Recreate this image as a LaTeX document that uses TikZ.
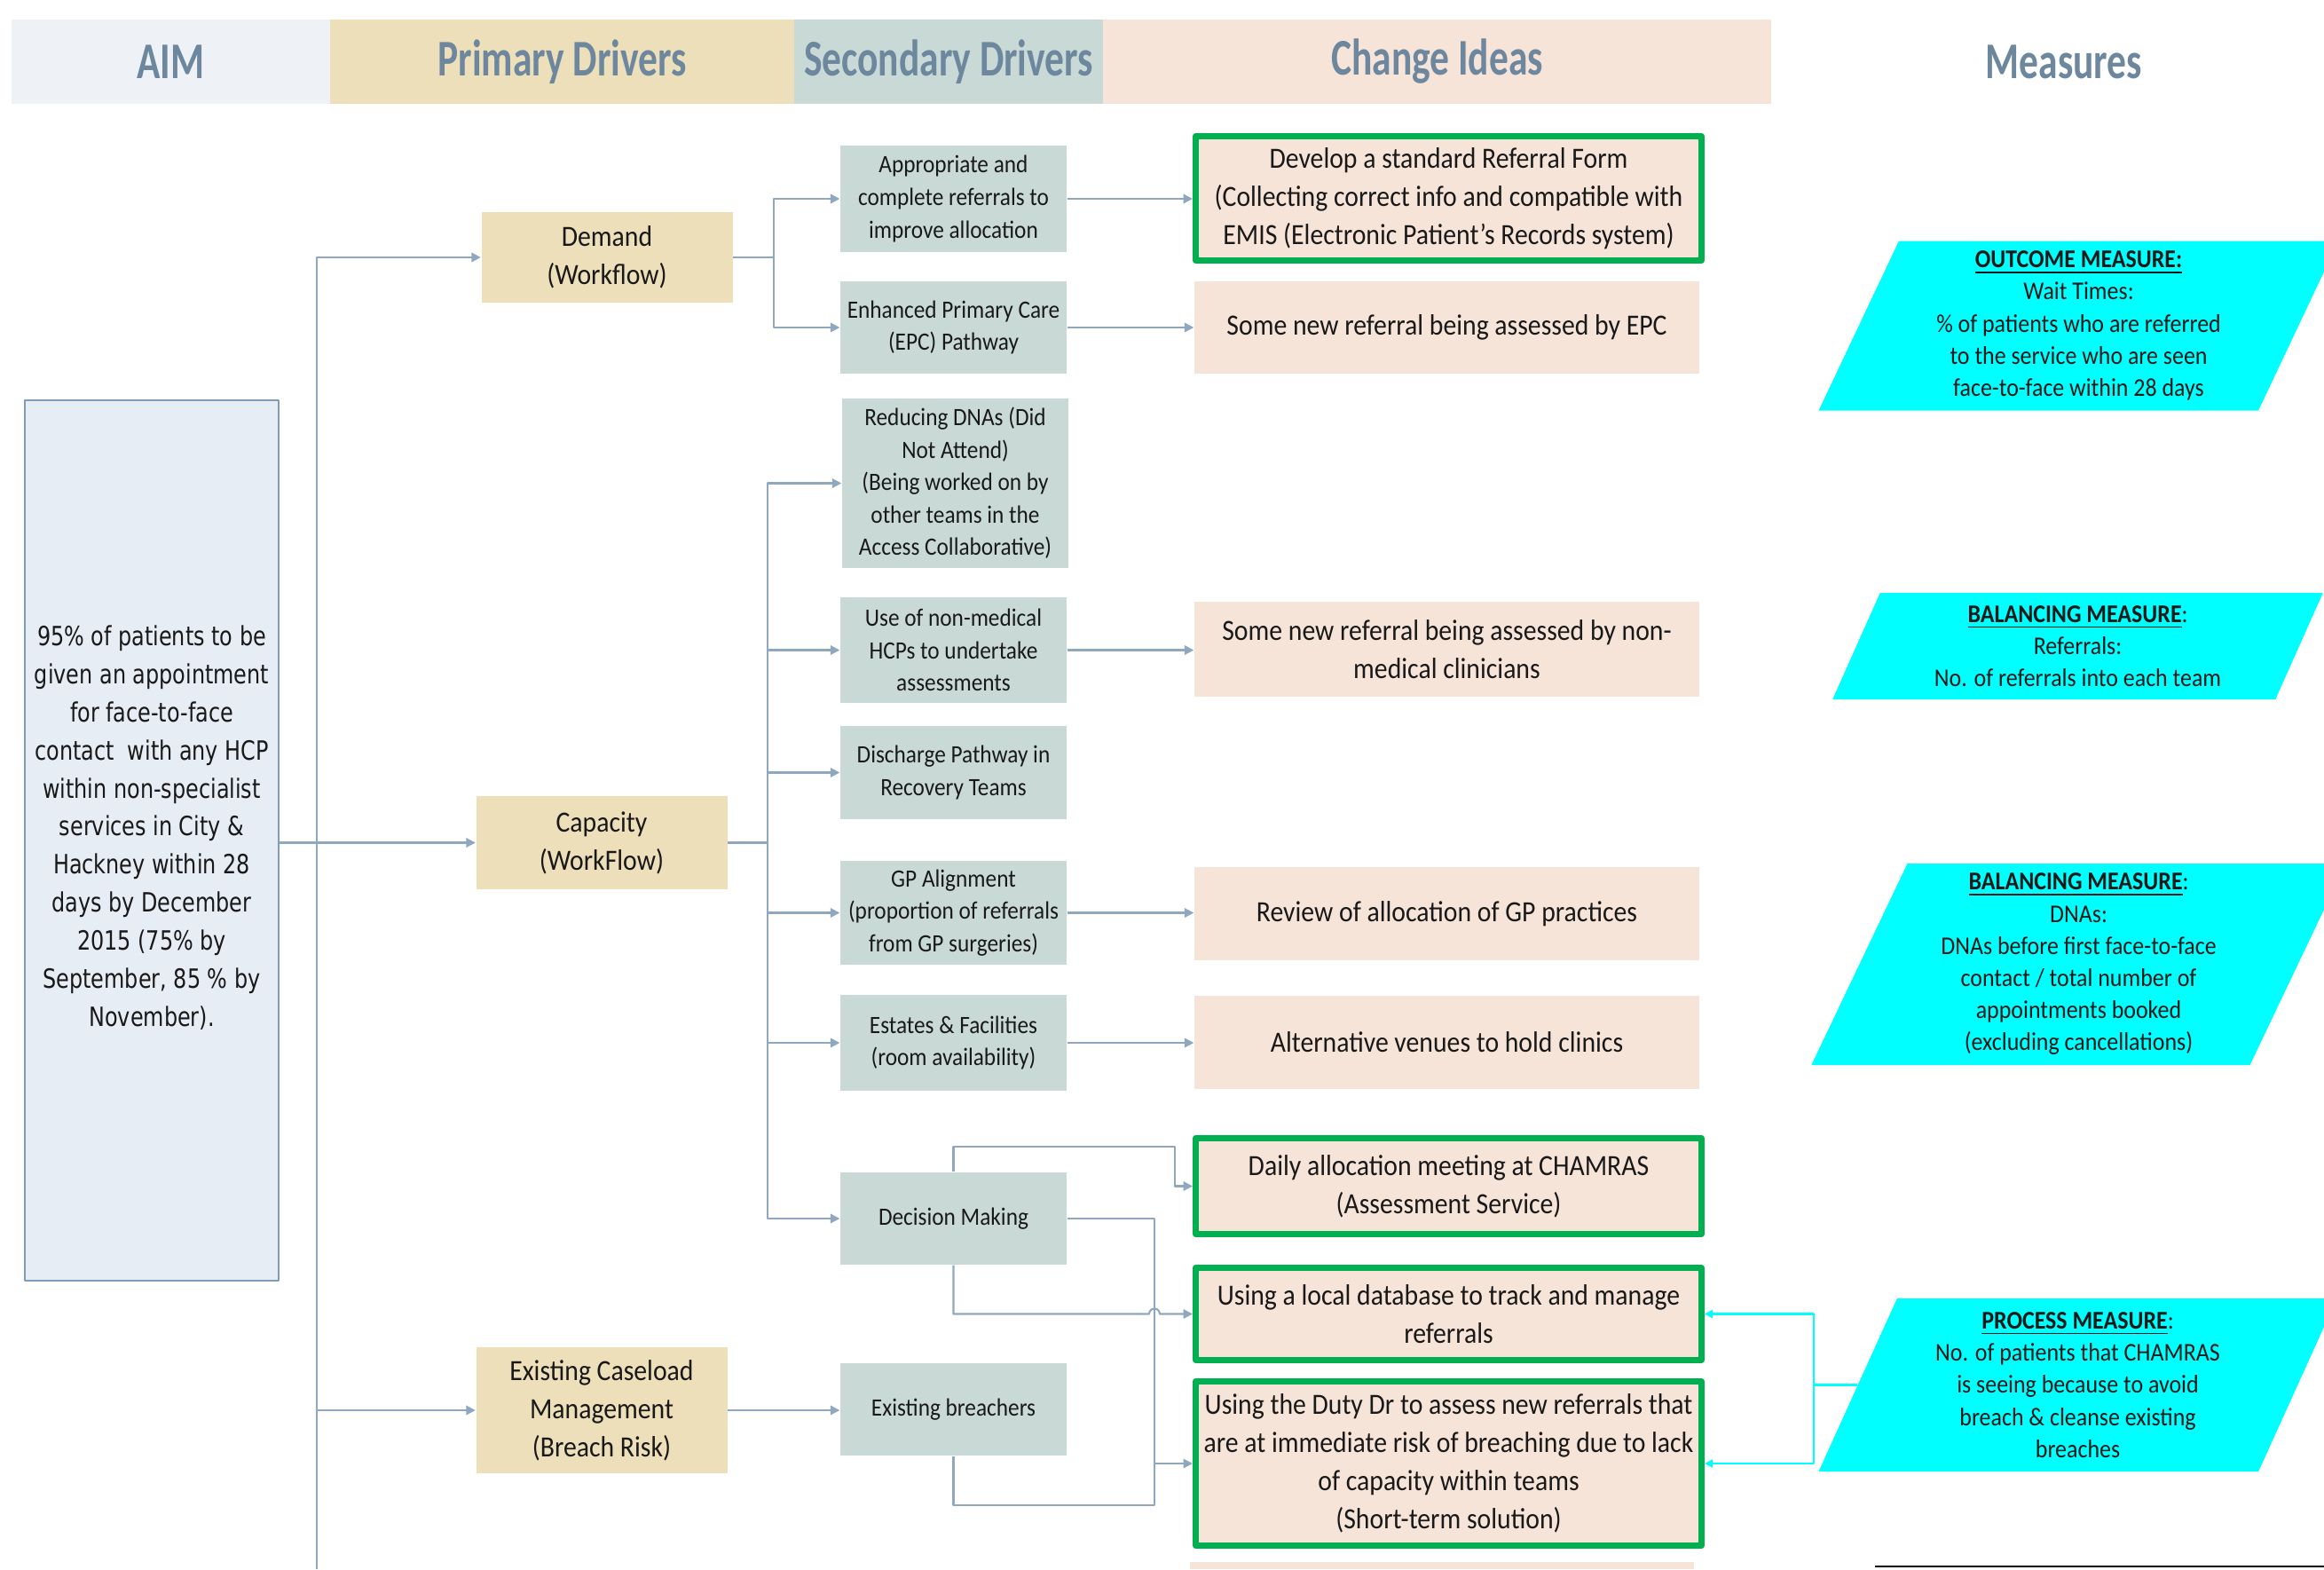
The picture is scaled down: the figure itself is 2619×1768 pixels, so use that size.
\documentclass[tikz,border=0pt]{standalone}
\usepackage{fontspec}
\setmainfont{Carlito}[FakeStretch=0.9]
\newfontfamily\headfont{Carlito}[FakeStretch=0.75]
\newfontfamily\aimfont{DejaVu Sans}[FakeStretch=0.8]
\usetikzlibrary{arrows.meta,shapes.geometric,calc}
\definecolor{headtxt}{RGB}{108,135,158}
\definecolor{aimhead}{RGB}{238,242,246}
\definecolor{aimfill}{RGB}{230,237,244}
\definecolor{aimline}{RGB}{127,157,185}
\definecolor{primfill}{RGB}{238,223,187}
\definecolor{secfill}{RGB}{201,218,214}
\definecolor{ideafill}{RGB}{246,228,217}
\definecolor{keygreen}{RGB}{0,176,80}
\definecolor{linkblue}{RGB}{143,167,191}
\definecolor{measfill}{RGB}{0,255,255}
\definecolor{txtdark}{RGB}{25,25,25}
\begin{document}
\begin{tikzpicture}[x=0.1mm,y=-0.1mm,>={Triangle[length=1.05mm,width=1.05mm]},line join=round,
	hbar/.style={minimum height=9.5mm,inner sep=0pt,font=\headfont\fontsize{16.5}{18}\selectfont\bfseries,text=headtxt},
	prim/.style={fill=primfill,inner sep=0pt,minimum width=28.3mm,align=center,text=txtdark,font=\fontsize{9.4}{12.2}\selectfont},
	sec/.style={fill=secfill,inner sep=0pt,minimum width=25.5mm,align=center,text=txtdark,font=\fontsize{8}{10.4}\selectfont},
	idea/.style={fill=ideafill,inner sep=0pt,minimum width=56.9mm,align=center,text=txtdark,font=\fontsize{9.4}{12.2}\selectfont},
	chosen/.style={idea,draw=keygreen,line width=2pt,minimum width=57mm},
	meas/.style={trapezium,trapezium left angle=67,trapezium right angle=113,trapezium stretches=true,fill=measfill,inner sep=0pt,align=center,text=txtdark,font=\fontsize{8.2}{10.3}\selectfont},
	link/.style={draw=linkblue,line width=0.6pt},
	mlink/.style={draw=measfill,line width=0.6pt,-{Triangle[length=0.9mm,width=0.9mm]}}]
	\useasboundingbox (0,0) rectangle (2619,1768);
	
	\node[hbar,fill=aimhead,minimum width=35.9mm] (hAim) at (192.5,69.5) {AIM};
	\node[hbar,fill=primfill,minimum width=52.3mm] (hPrim) at (633.5,69.5) {Primary Drivers};
	\node[hbar,fill=secfill,minimum width=34.8mm] (hSec) at (1069,69.5) {Secondary Drivers};
	\node[hbar,fill=ideafill,minimum width=75.3mm] (hIdea) at (1619.5,69.5) {Change Ideas};
	\node[hbar] (hMeas) at (2326,69.5) {Measures};
	
	\node[fill=aimfill,draw=aimline,line width=0.8pt,inner sep=0pt,minimum width=28.6mm,minimum height=99.2mm,align=center,text=txtdark,font=\aimfont\fontsize{8.5}{12.2}\selectfont] (aim) at (171,947)
	{95\% of patients to be\\given an appointment\\for face-to-face\\contact\ \ with any HCP\\within non-specialist\\services in City \&\\Hackney within 28\\days by December\\2015 (75\% by\\September, 85 \% by\\November).\\[-1mm]};
	
	\node[prim,minimum height=10.2mm] (demand) at (684,290) {Demand\\(Workflow)};
	\node[prim,minimum height=10.5mm] (capacity) at (678,949.5) {Capacity\\(WorkFlow)};
	\node[prim,minimum height=14.2mm] (caseload) at (678,1589) {Existing Caseload\\Management\\(Breach Risk)};
	
	\node[sec,minimum height=12mm] (appr) at (1074.5,224) {Appropriate and\\complete referrals to\\improve allocation};
	\node[sec,minimum height=10.4mm] (epc) at (1074.5,369) {Enhanced Primary Care\\(EPC) Pathway};
	\node[sec,minimum height=19.1mm] (dna) at (1076.5,544.5) {Reducing DNAs (Did\\Not Attend)\\(Being worked on by\\other teams in the\\Access Collaborative)};
	\node[sec,minimum height=11.9mm] (nonmed) at (1074.5,732.5) {Use of non-medical\\HCPs to undertake\\assessments};
	\node[sec,minimum height=10.5mm] (disch) at (1074.5,870.5) {Discharge Pathway in\\Recovery Teams};
	\node[sec,minimum height=11.7mm] (gp) at (1074.5,1028.5) {GP Alignment\\(proportion of referrals\\from GP surgeries)};
	\node[sec,minimum height=10.8mm] (estates) at (1074.5,1175) {Estates \& Facilities\\(room availability)};
	\node[sec,minimum height=10.4mm] (decision) at (1074.5,1373) {Decision Making};
	\node[sec,minimum height=10.4mm] (breach) at (1074.5,1588) {Existing breachers};
	
	\node[chosen,minimum height=14mm] (form) at (1632.5,223.5) {Develop a standard Referral Form\\(Collecting correct info and compatible with\\EMIS (Electronic Patient’s Records system)};
	\node[idea,minimum height=10.4mm] (epcIdea) at (1630.5,369) {Some new referral being assessed by EPC};
	\node[idea,minimum height=10.7mm] (nonmedIdea) at (1630.5,731.5) {Some new referral being assessed by non-\\medical clinicians};
	\node[idea,minimum height=10.5mm] (gpIdea) at (1630.5,1029.5) {Review of allocation of GP practices};
	\node[idea,minimum height=10.5mm] (venue) at (1630.5,1174.5) {Alternative venues to hold clinics};
	\node[chosen,minimum height=10.8mm] (daily) at (1632.5,1336.5) {Daily allocation meeting at CHAMRAS\\(Assessment Service)};
	\node[chosen,minimum height=10.4mm] (database) at (1632.5,1480.5) {Using a local database to track and manage\\referrals};
	\node[chosen,minimum height=18.5mm] (duty) at (1632.5,1649) {Using the Duty Dr to assess new referrals that\\are at immediate risk of breaching due to lack\\of capacity within teams\\(Short-term solution)};
	\fill[ideafill] (1341,1760) rectangle (1909,1768);
	
	\node[meas,minimum width=58.7mm,minimum height=19.1mm] (outcome) at (2342.5,367) {\textbf{\underline{OUTCOME MEASURE:}}\\Wait Times:\\\% of patients who are referred\\to the service who are seen\\face-to-face within 28 days};
	\node[meas,minimum width=55.3mm,minimum height=12mm] (balRef) at (2341.5,728) {\textbf{\underline{BALANCING MEASURE}}:\\Referrals:\\No. of referrals into each team};
	\node[meas,minimum width=60.3mm,minimum height=22.7mm] (balDna) at (2342.5,1086.5) {\textbf{\underline{BALANCING MEASURE}}:\\DNAs:\\DNAs before first face-to-face\\contact / total number of\\appointments booked\\(excluding cancellations)};
	\node[meas,minimum width=58.5mm,minimum height=19.5mm] (process) at (2341.5,1560.5) {\textbf{\underline{PROCESS MEASURE}}:\\No. of patients that CHAMRAS\\is seeing because to avoid\\breach \& cleanse existing\\breaches};
	\draw[line width=0.8pt] (2113,1765) -- (2619,1765);
	
	\coordinate (trunk) at (357,1768);
	\coordinate (dj) at (872,0);
	\coordinate (cj) at (865,0);
	\coordinate (dk) at (1324,1292);
	\coordinate (vx) at (1301,0);
	\coordinate (bk) at (1301,1696);
	\coordinate (mj) at (2044,0);
	\draw[link,->] (trunk) |- (demand.west);
	\draw[link,->] (trunk) |- (caseload.west);
	\draw[link,->] (aim.east |- capacity.west) -- (capacity.west);
	\draw[link] (demand.east) -- (dj |- demand.east);
	\foreach \s in {appr,epc}
	\draw[link,->] (dj |- demand.east) |- (\s.west);
	\draw[link] (capacity.east) -- (cj |- capacity.east);
	\foreach \s in {dna,nonmed,disch,gp,estates,decision}
	\draw[link,->] (cj |- capacity.east) |- (\s.west);
	\draw[link,->] (caseload.east) -- (caseload.east -| breach.west);
	\foreach \a/\b in {appr/form,epc/epcIdea,nonmed/nonmedIdea,gp/gpIdea,estates/venue}
	\draw[link,->] (\a.east) -- (\a.east -| \b.west);
	\draw[link,->] (decision.north) |- (dk) |- (daily.west);
	\draw[link,->] (decision.south) |- ($(vx |- database.west)+(-6,0)$) arc[start angle=180,end angle=0,radius=0.6mm] -- (database.west);
	\draw[link,->] (decision.east) -| (vx |- duty.west) -- (duty.west);
	\draw[link] (breach.south) |- (bk) -- (vx |- duty.west);
	\draw[mlink] (process.west) -- (mj |- process.west) |- (database.east);
	\draw[mlink] (mj |- process.west) |- (duty.east);
\end{tikzpicture}
\end{document}
